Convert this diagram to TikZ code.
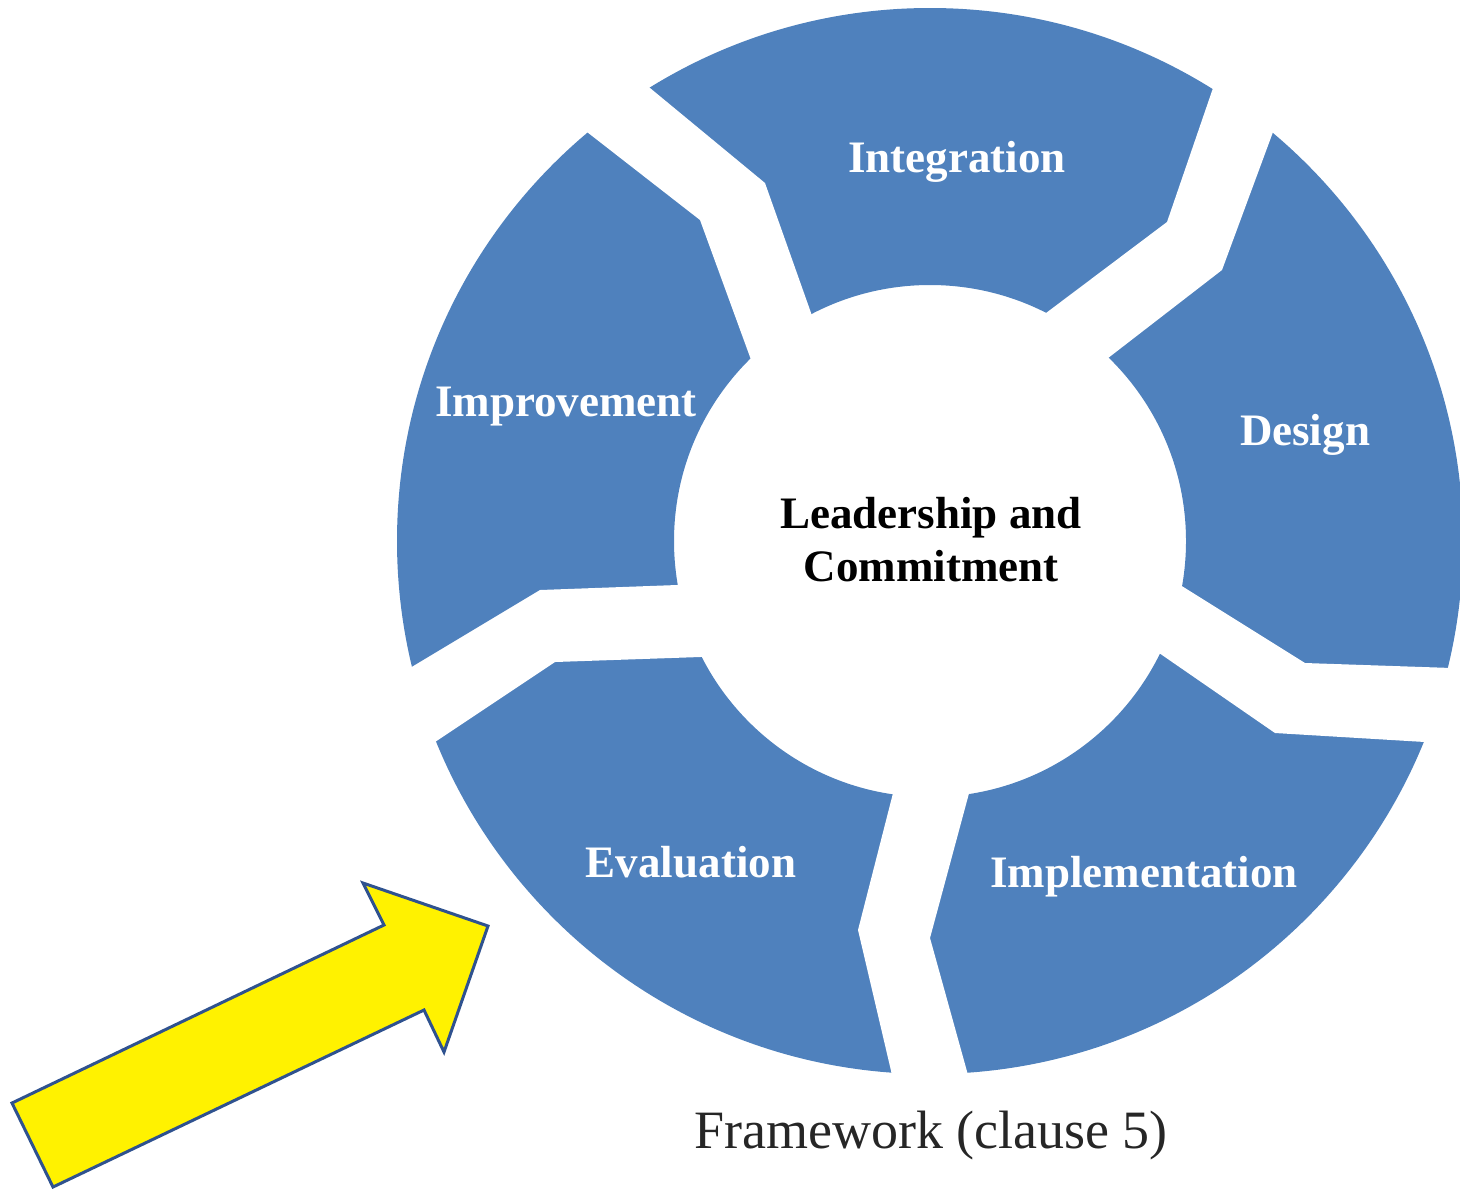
\documentclass[tikz,border=0pt]{standalone}
\usepackage{fontspec}
\setmainfont{Liberation Serif}
\usetikzlibrary{calc}
\definecolor{ringblue}{RGB}{79,129,189}
\definecolor{arrowedge}{RGB}{47,82,143}
\tikzstyle{every node}=[inner sep=0pt,anchor=base,font=\fontsize{22.5}{26.5}\selectfont\bfseries]
\tikzstyle{seg}=[text=white]
\tikzstyle{caption}=[text=black!85,font=\fontsize{27}{31}\selectfont]
\newcommand{\gap}[6]{\fill[white] ($#2!1.5!#1$) -- #2 -- ($#2!1.5!#3$)
	-- ($#5!1.5!#6$) -- #5 -- ($#5!1.5!#4$) -- cycle;}

\begin{document}
\begin{tikzpicture}[x=0.5pt, y=-0.5pt]
	\useasboundingbox (0,0) rectangle (1460,1190);
	\coordinate (o) at (930,541);
	\fill[ringblue, even odd rule] (o) circle[radius=533] (o) circle[radius=256];
	\gap{(587,132)}{(700,220)}{(750,357)}{(650,88)}{(765,183)}{(810,310)}
	\gap{(1213,88)}{(1167,222)}{(1050,310)}{(1273,132)}{(1222,270)}{(1112,355)}
	\gap{(1452,668)}{(1305,663)}{(1185,588)}{(1425,742)}{(1275,733)}{(1162,655)}
	\gap{(968,1075)}{(930,938)}{(968,797)}{(892,1075)}{(858,930)}{(892,797)}
	\gap{(435,742)}{(555,662)}{(700,657)}{(410,668)}{(540,590)}{(677,585)}
	\node[seg] (n1) at (957,172) {Integration};
	\node[seg] (n2) at (566,416) {Improvement};
	\node[seg] (n3) at (1305,445) {Design};
	\node[seg] (n4) at (691,877) {Evaluation};
	\node[seg] (n5) at (1144,887) {Implementation};
	\node (c1) at (931,528) {Leadership and};
	\node (c2) at (931,581) {Commitment};
	\node[caption] (f) at (931,1148) {Framework (clause 5)};
	\draw[fill=yellow, draw=arrowedge, line width=1.5pt, line join=miter]
		(12,1103) -- ++(372,-178) -- ++(-21,-42) -- ++(125,43)
		-- ++(-44,126) -- ++(-20,-42) -- ++(-371,177) -- cycle;
\end{tikzpicture}
\end{document}
